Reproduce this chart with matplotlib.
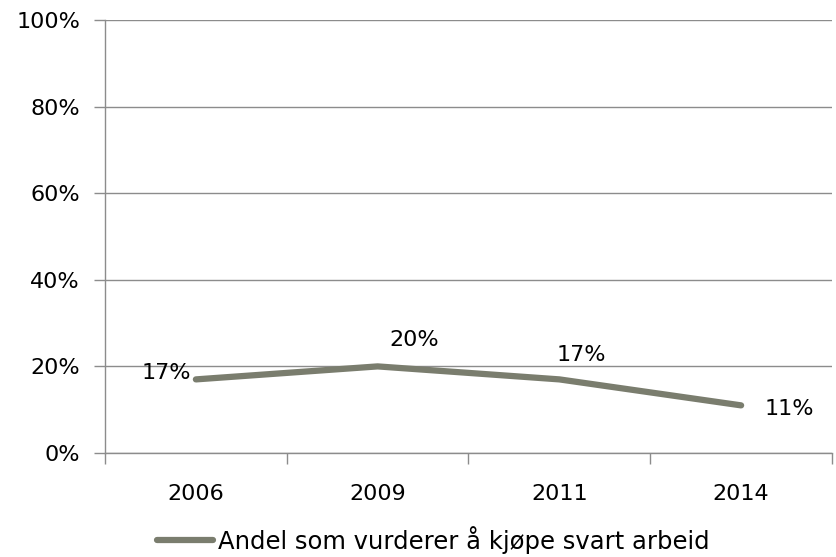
import matplotlib
matplotlib.use("Agg")
import matplotlib.pyplot as plt
from matplotlib.ticker import FuncFormatter

years = ["2006", "2009", "2011", "2014"]
values = [17, 20, 17, 11]
labels = ["17%", "20%", "17%", "11%"]
series_name = "Andel som vurderer å kjøpe svart arbeid"

plt.rcParams['font.family'] = ['DejaVu Sans']
fig = plt.figure(figsize=(8.37, 5.57), dpi=100)
ax = fig.add_axes([105/837, 1-453/557, 727/837, 433/557])

x = list(range(len(years)))
line, = ax.plot(x, values, color='#7a7d6e', lw=4.5, solid_capstyle='round',
                label=series_name)
ax.set_xlim(-0.5, len(years) - 0.5)
ax.set_ylim(0, 100)
ax.set_yticks(range(0, 101, 20))
ax.yaxis.set_major_formatter(FuncFormatter(lambda v, p: f"{int(v)}%"))
ax.set_xticks([i - 0.5 for i in range(len(years) + 1)], minor=False)
ax.set_xticklabels([])
ax.set_xticks(x, minor=True)
ax.set_xticklabels(years, minor=True)
ax.tick_params(axis='x', which='minor', length=0, pad=22, labelsize=16)
ax.tick_params(axis='x', which='major', length=8, color='#8c8c8c', width=1)
ax.tick_params(axis='y', length=8, color='#8c8c8c', width=1, labelsize=16, pad=10)

ax.grid(axis='y', color='#8c8c8c', lw=1)
ax.set_axisbelow(True)
for s in ['top', 'right']:
    ax.spines[s].set_visible(False)
for s in ['left', 'bottom']:
    ax.spines[s].set_color('#8c8c8c')
    ax.spines[s].set_linewidth(1)

offsets = [(-30, 6), (37, 26), (22, 24), (48, -4)]
for xi, v, t, (dx, dy) in zip(x, values, labels, offsets):
    ax.annotate(t, (xi, v), xytext=(dx, dy), textcoords='offset pixels',
                ha='center', va='center', fontsize=16)

fig.legend(handles=[line], loc='center', bbox_to_anchor=(433/837, 1-540/557),
           frameon=False, fontsize=17.5, handlelength=2.3, handletextpad=0.2,
           borderpad=0.2)

fig.savefig("out.png", dpi=100)
